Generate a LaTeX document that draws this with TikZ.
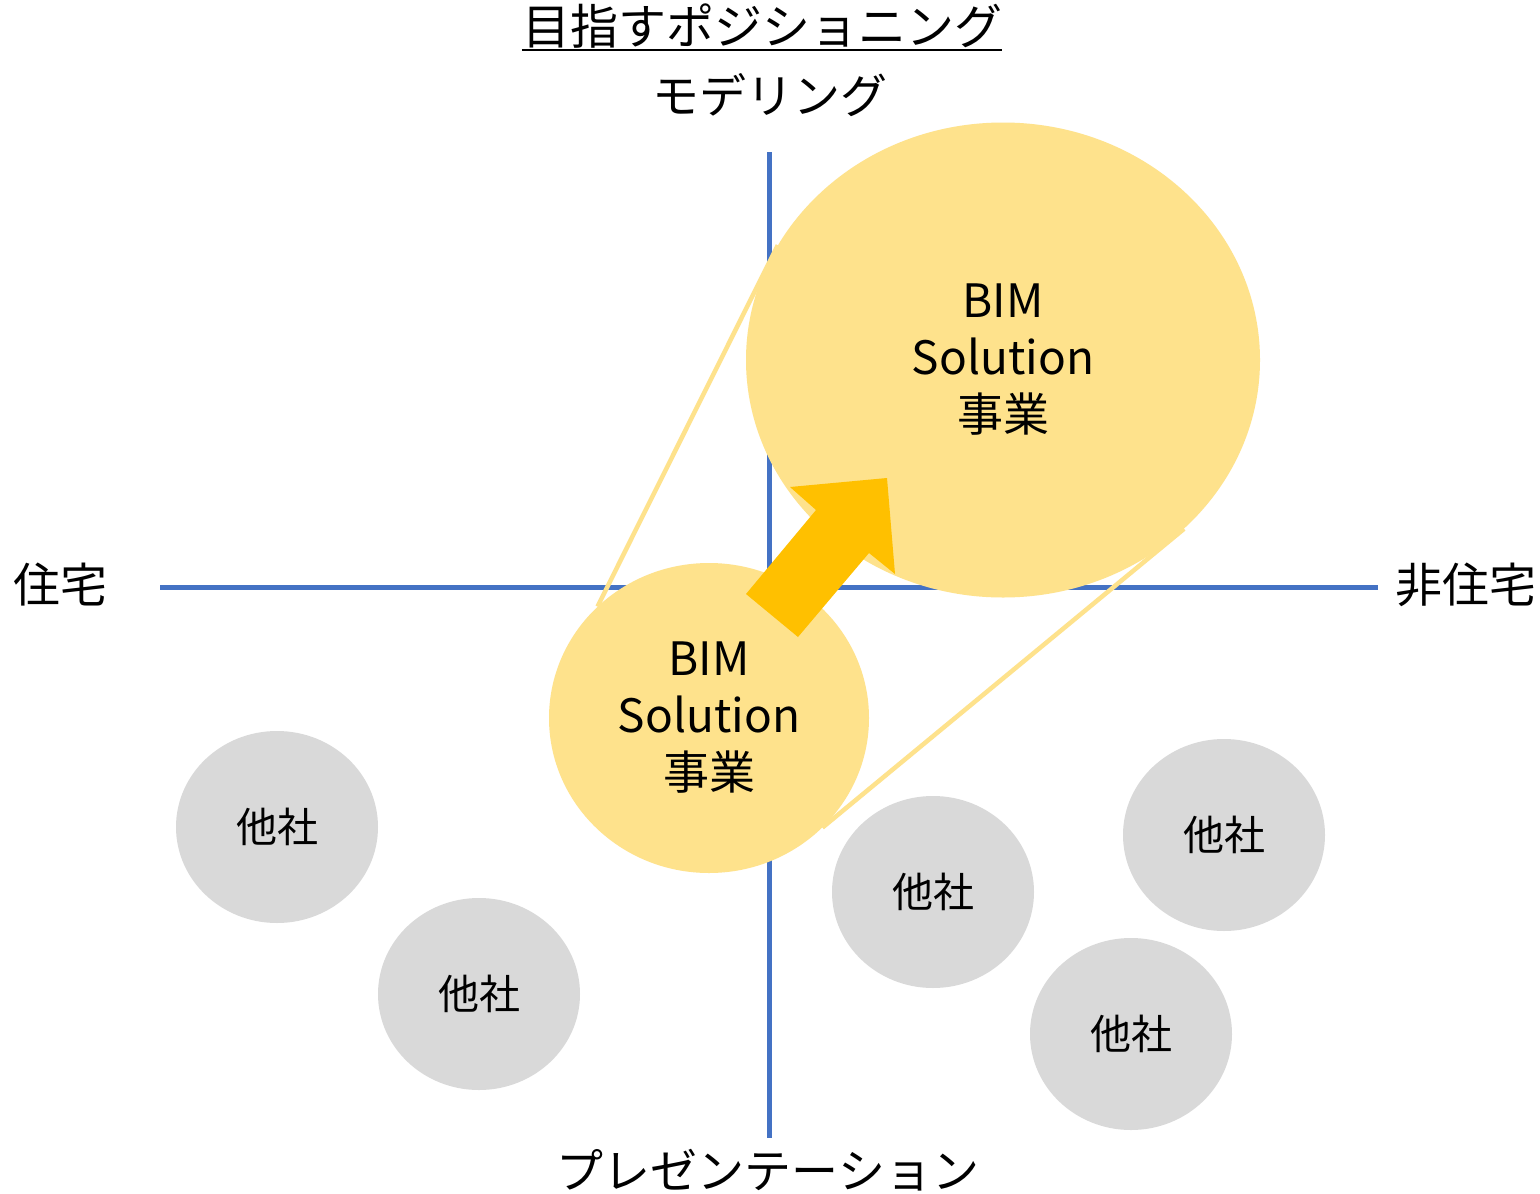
\documentclass[tikz,border=0pt]{standalone}
\usepackage{fontspec}
\setmainfont{Noto Sans CJK JP}
\usetikzlibrary{shapes.geometric}

\definecolor{axisblue}{HTML}{4472C4}
\definecolor{lightgold}{HTML}{FEE28C}
\definecolor{deepgold}{HTML}{FFC000}
\definecolor{othergray}{HTML}{D9D9D9}

\tikzset{
  axisline/.style={draw=axisblue, line width=5pt},
  label/.style={inner sep=0pt, font=\fontsize{47}{55}\selectfont},
  bimblob/.style={ellipse, fill=lightgold, inner sep=0pt, align=center,
    font=\fontsize{46}{57}\selectfont},
  rival/.style={ellipse, fill=othergray, inner sep=0pt,
    minimum width=202pt, minimum height=192pt,
    font=\fontsize{41}{50}\selectfont},
  zoomline/.style={draw=lightgold, line width=4.5pt},
  growth/.style={fill=deepgold},
}

\begin{document}
\begin{tikzpicture}[x=1pt, y=-1pt]
  \useasboundingbox (0,0) rectangle (1540,1194);
  \fill[white] (0,0) rectangle (1540,1194);

  % heading
  \node[label, font=\fontsize{48}{56}\selectfont, anchor=base] (title) at (762,44) {目指すポジショニング};
  \draw[line width=2.5pt] ([yshift=-6pt]title.base west) -- ([yshift=-6pt]title.base east);

  % axis labels
  \node[label] (top) at (770,95) {モデリング};
  \node[label] (bottom) at (768,1170) {プレゼンテーション};
  \node[label] (left) at (60,585) {住宅};
  \node[label] (right) at (1466,585) {非住宅};

  % axes
  \coordinate (vtop) at (769,152);
  \coordinate (vbot) at (769,1138);
  \coordinate (hleft) at (160,587);
  \coordinate (hright) at (1378,587);
  \draw[axisline] (vtop) -- (vbot);
  \draw[axisline] (hleft) -- (hright);

  % current and target position
  \node[bimblob, minimum width=514pt, minimum height=475pt] (target) at (1003,360) {BIM\\Solution\\事業};
  \node[bimblob, minimum width=320pt, minimum height=310pt] (current) at (709,718) {BIM\\Solution\\事業};

  % magnification lines
  \draw[zoomline] (target.153) -- (current.135.5);
  \draw[zoomline] (target.-43) -- (current.-44);

  % block arrow from current to target
  \fill[growth] (746,594) -- (816,510) -- (790,487) -- (887,478)
    -- (895,574) -- (869,553) -- (798,637) -- cycle;

  % competitors
  \node[rival] (o1) at (277,827) {他社};
  \node[rival] (o2) at (479,994) {他社};
  \node[rival] (o3) at (933,892) {他社};
  \node[rival] (o4) at (1224,835) {他社};
  \node[rival] (o5) at (1131,1034) {他社};
\end{tikzpicture}
\end{document}
